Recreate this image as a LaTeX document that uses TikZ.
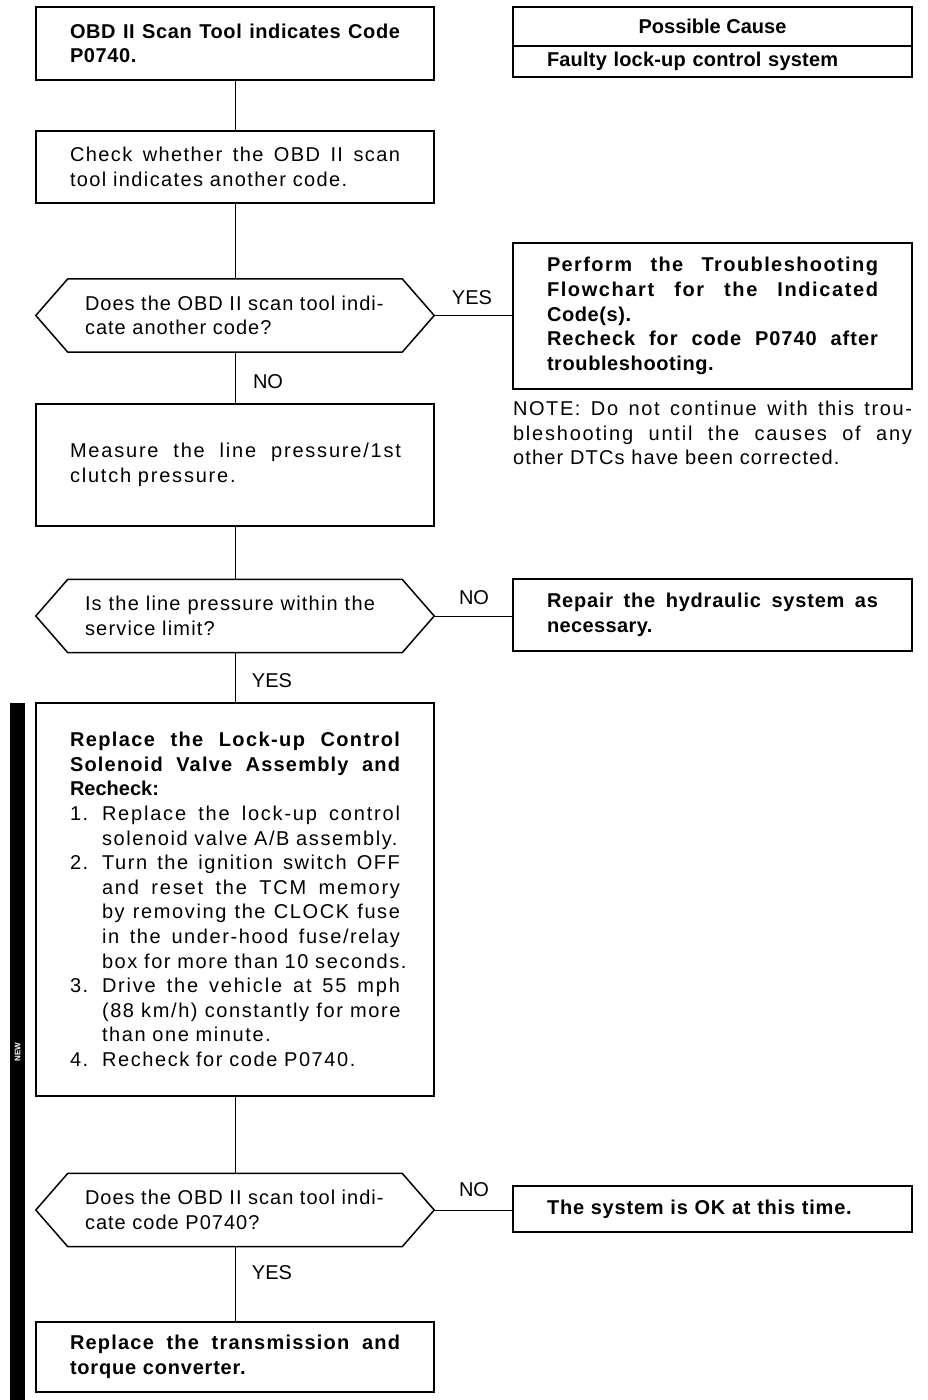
\documentclass[tikz,border=0pt]{standalone}
\usepackage{fontspec}
\setmainfont{Liberation Sans}
\usetikzlibrary{calc}
\newcommand\J[2]{\makebox[#1pt][s]{\spaceskip=\fontdimen2\font plus 1fil\relax#2}}
\newcommand\JL[3]{\makebox[#1pt][s]{\addfontfeature{LetterSpace=#2}\spaceskip=\fontdimen2\font plus 1fil\relax#3}}
\newcommand\NB[1]{\makebox[298pt][l]{#1}}
\newcommand\LS[1]{\addfontfeature{LetterSpace=#1}}
\newcommand\fs{\fontsize{20}{24.6}\selectfont}
\begin{document}
\begin{tikzpicture}[x=1pt,y=-1pt,
  box/.style={draw, line width=1.5pt, rectangle, inner xsep=34pt, inner ysep=0pt, align=left, font=\fs},
  lbox/.style={box, text width=330pt},
  rbox/.style={box, text width=331pt},
  cell/.style={draw, line width=1.5pt, rectangle, inner sep=0pt, font=\fs},
  hexnode/.style={rectangle, inner xsep=49pt, inner ysep=0pt, text width=300pt, minimum width=398pt, minimum height=73pt, align=left, font=\fs},
  hex/.style={line width=1.5pt, line join=miter},
  conn/.style={line width=1pt},
  lab/.style={font=\fs, inner sep=0pt},
  plaintext/.style={font=\fs, inner sep=0pt, align=left}]
\useasboundingbox (0,0) rectangle (928,1400);
\fill[white] (0,0) rectangle (928,1400);

% left side bar
\fill[black] (10,703) rectangle (25,1400);
\node[rotate=90, text=white, font=\fontsize{8}{9}\selectfont\bfseries, inner sep=0pt] (newtag) at (17.5,1052) {NEW};

% left column
\node[lbox, minimum height=73pt] (b1) at (235,43.5)
  {\bfseries\LS{3}\J{330}{OBD II Scan Tool indicates Code}\\P0740.};
\node[lbox, minimum height=72pt] (b2) at (235,167)
  {\LS{7}\J{330}{Check whether the OBD II scan}\\tool indicates another code.};
\node[hexnode] (d1) at (235,315.5)
  {\LS{5}\J{296}{Does the OBD II scan tool indi-}\\cate another code?};
\node[lbox, minimum height=122pt] (b3) at (235,465)
  {\LS{9}\J{331}{Measure the line pressure/1st}\\clutch pressure.};
\node[hexnode] (d2) at (235,616)
  {\LS{6}\J{290}{Is the line pressure within the}\\service limit?};
\node[lbox, minimum height=393pt] (b4) at (235,899.5)
  {{\bfseries\JL{330}{7}{Replace the Lock-up Control}\\
   \JL{330}{6}{Solenoid Valve Assembly and}\\
   Recheck:}\\
   \LS{8}\makebox[32pt][l]{1.}\JL{298}{9}{Replace the lock-up control}\\
   \hspace*{32pt}\NB{solenoid valve A/B assembly.}\\
   \makebox[32pt][l]{2.}\JL{298}{8}{Turn the ignition switch OFF}\\
   \hspace*{32pt}\JL{298}{9}{and reset the TCM memory}\\
   \hspace*{32pt}\JL{298}{8}{by removing the CLOCK fuse}\\
   \hspace*{32pt}\JL{298}{8}{in the under-hood fuse/relay}\\
   \hspace*{32pt}\NB{box for more than 10 seconds.}\\
   \makebox[32pt][l]{3.}\JL{298}{9}{Drive the vehicle at 55 mph}\\
   \hspace*{32pt}\J{298}{(88 km/h) constantly for more}\\
   \hspace*{32pt}than one minute.\\
   \makebox[32pt][l]{4.}Recheck for code P0740.};
\node[hexnode] (d3) at (235,1210)
  {\LS{5}\J{296}{Does the OBD II scan tool indi-}\\cate code P0740?};
\node[lbox, minimum height=70pt] (b5) at (235,1357)
  {\bfseries\LS{4}\JL{330}{6}{Replace the transmission and}\\torque converter.};

% hexagons
\foreach \d in {d1,d2,d3}{
  \draw[hex] (\d.west) -- ($(\d.north west)+(32,0)$) -- ($(\d.north east)+(-32,0)$)
    -- (\d.east) -- ($(\d.south east)+(-32,0)$) -- ($(\d.south west)+(32,0)$) -- cycle;
}

% right column
\node[cell, minimum width=399pt, minimum height=39pt] (pc1) at (712.5,26.5) {\bfseries Possible Cause};
\node[cell, minimum width=399pt, minimum height=31pt, inner xsep=34pt, text width=331pt, align=left] (pc2) at (712.5,61.5)
  {\bfseries\LS{1}Faulty lock-up control system};
\node[rbox, minimum height=146pt] (r1) at (712.5,316)
  {\bfseries\LS{3}\JL{331}{7}{Perform the Troubleshooting}\\
   \JL{331}{8}{Flowchart for the Indicated}\\
   Code(s).\\
   \JL{331}{5}{Recheck for code P0740 after}\\
   troubleshooting.};
\node[plaintext, text width=399pt] (note) at (712.5,433)
  {\LS{6}\JL{399}{8}{NOTE: Do not continue with this trou-}\\
   \JL{399}{9}{bleshooting until the causes of any}\\
   other DTCs have been corrected.};
\node[rbox, minimum height=72pt] (r2) at (712.5,615)
  {\bfseries\LS{2}\JL{331}{4}{Repair the hydraulic system as}\\necessary.};
\node[rbox, minimum height=46pt] (r3) at (712.5,1209)
  {\bfseries\LS{4}The system is OK at this time.};

% connectors
\draw[conn] (b1) -- (b2);
\draw[conn] (b2) -- (d1);
\draw[conn] (d1) -- (b3);
\draw[conn] (b3) -- (d2);
\draw[conn] (d2) -- (b4);
\draw[conn] (b4) -- (d3);
\draw[conn] (d3) -- (b5);
\draw[conn] (d1.east) -- (d1.east -| r1.west);
\draw[conn] (d2.east) -- (d2.east -| r2.west);
\draw[conn] (d3.east) -- (d3.east -| r3.west);

% labels
\node[lab] (yes1) at (472,298) {YES};
\node[lab] (no1) at (268,382) {NO};
\node[lab] (no2) at (474,598) {NO};
\node[lab] (yes2) at (272,681) {YES};
\node[lab] (no3) at (474,1190) {NO};
\node[lab] (yes3) at (272,1273) {YES};
\end{tikzpicture}
\end{document}
